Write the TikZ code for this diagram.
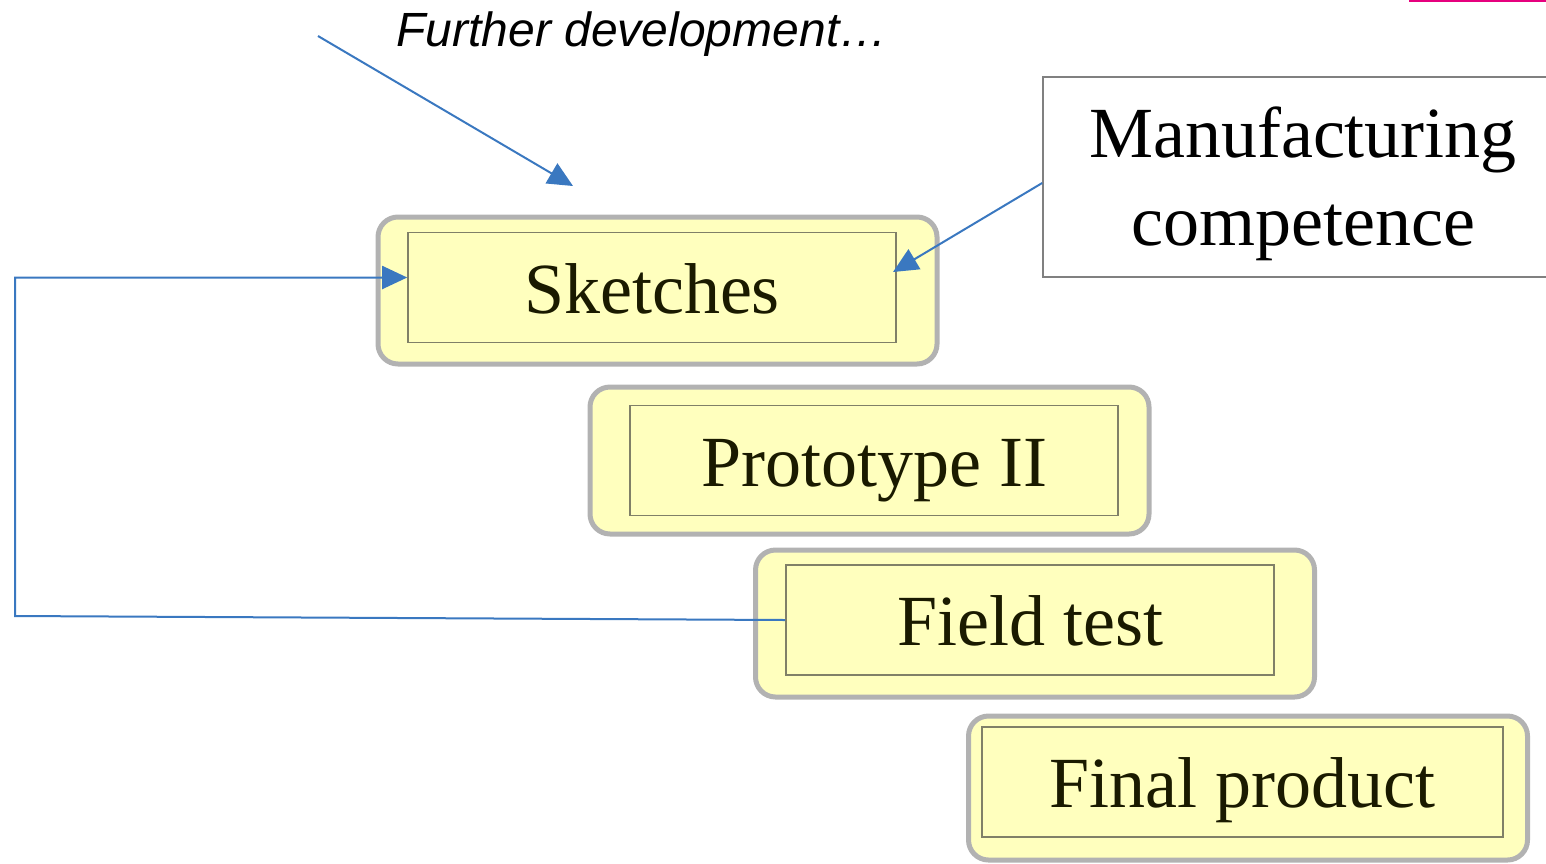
\documentclass[tikz,border=0pt]{standalone}
\usepackage{fontspec}
\setmainfont{Liberation Serif}
\newfontfamily\labelfont{Liberation Sans}
\usetikzlibrary{arrows.meta}
\definecolor{linkblue}{RGB}{58,120,192}
\definecolor{boxgray}{RGB}{178,178,178}
\definecolor{boxfill}{RGB}{255,255,190}
\definecolor{innergray}{RGB}{128,128,104}
\definecolor{textdark}{RGB}{26,26,0}
\definecolor{accent}{RGB}{230,0,126}
\begin{document}
\begin{tikzpicture}[x=0.5pt,y=-0.5pt]
\tikzset{every node/.append style={inner sep=0pt},
  outerbox/.style={draw=boxgray,line width=2.5pt,fill=boxfill,rounded corners=10pt,minimum width=279.5pt,minimum height=73.5pt},
  innerbox/.style={draw=innergray,line width=0.8pt,minimum width=244pt,minimum height=55pt,text height=28pt,text depth=2.5pt,text=textdark,font=\fontsize{36}{40}\selectfont},
  link/.style={draw=linkblue,line width=1pt,-{Triangle[length=12.5pt,width=11.5pt]}}}
\useasboundingbox (0,0) rectangle (1546,863);
\draw [accent,line width=1.2pt] (1409,1) -- (1546,1);
% steps
\node [outerbox] (sk) at (657.5,290.5) {};
\node [innerbox] (skin) at (652,287.5) {Sketches};
\node [outerbox] (pt) at (869.5,460.5) {};
\node [innerbox] (ptin) at (874,460.5) {Prototype II};
\node [outerbox] (ft) at (1035,623.5) {};
\node [innerbox] (ftin) at (1030,620) {Field test};
\node [outerbox,minimum height=72pt] (fp) at (1248,788) {};
\node [innerbox,minimum width=260.5pt] (fpin) at (1242.5,782) {Final product};
% inputs
\node [draw=gray,line width=0.8pt,minimum width=260pt,minimum height=100pt] (mc) at (1303,177) {};
\node [align=center,font=\fontsize{36}{44}\selectfont] (mctext) at (1303,184) {Manufacturing\\competence};
\node [font=\labelfont\itshape\fontsize{24}{28}\selectfont] (fd) at (642,34) {Further development\ldots};
\coordinate (fdstart) at (318,36);
\coordinate (fdend) at (573,186);
\coordinate (mcend) at (893,272);
\coordinate (fb) at (15,616);
\draw [link] (fdstart) -- (fdend);
\draw [link] ([yshift=-3pt]mc.west) -- (mcend);
\draw [link] (ftin.west) -- (fb) |- ([yshift=5pt]skin.west);
\end{tikzpicture}
\end{document}
